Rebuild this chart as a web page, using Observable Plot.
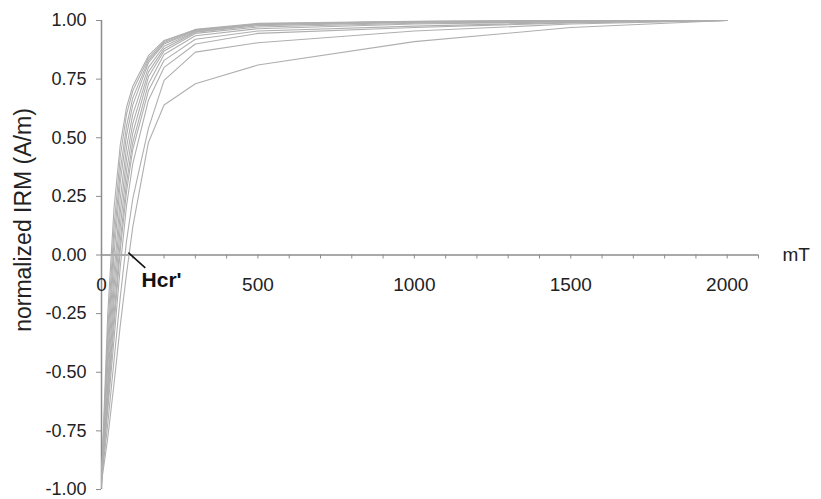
<!DOCTYPE html>
<html>
<head>
<meta charset="utf-8">
<script src="https://cdn.jsdelivr.net/npm/d3@7"></script>
<script src="https://cdn.jsdelivr.net/npm/@observablehq/plot@0.6"></script>
<style>
  html, body { margin: 0; padding: 0; background: #fff; }
  #chart svg { display: block; }
</style>
</head>
<body>
<div id="chart"></div>
<script>
// Applied field (mT) at which each sample was measured
const fields = [0, 20, 40, 60, 80, 100, 150, 200, 300, 500, 1000, 1500, 2000];

// Normalized IRM for each sample
const s1  = [-0.96, -0.25, 0.20, 0.47, 0.63, 0.72, 0.85, 0.915, 0.96, 0.985, 0.996, 0.999, 1];
const s2  = [-0.98, -0.32, 0.12, 0.42, 0.60, 0.70, 0.84, 0.91, 0.962, 0.988, 0.997, 0.999, 1];
const s3  = [-0.95, -0.38, 0.06, 0.36, 0.55, 0.67, 0.83, 0.905, 0.958, 0.986, 0.996, 0.999, 1];
const s4  = [-0.97, -0.44, 0.00, 0.31, 0.51, 0.64, 0.82, 0.90, 0.955, 0.984, 0.995, 0.998, 1];
const s5  = [-0.93, -0.48, -0.08, 0.24, 0.46, 0.60, 0.80, 0.89, 0.952, 0.982, 0.994, 0.998, 1];
const s6  = [-0.99, -0.54, -0.14, 0.18, 0.41, 0.56, 0.78, 0.88, 0.95, 0.978, 0.992, 0.997, 1];
const s7  = [-0.96, -0.57, -0.20, 0.12, 0.36, 0.52, 0.76, 0.87, 0.945, 0.972, 0.988, 0.996, 1];
const s8  = [-0.94, -0.60, -0.26, 0.06, 0.31, 0.48, 0.73, 0.855, 0.935, 0.965, 0.985, 0.995, 1];
const s9  = [-0.97, -0.63, -0.30, 0.02, 0.27, 0.45, 0.70, 0.83, 0.92, 0.955, 0.976, 0.992, 1];
const s10 = [-0.95, -0.66, -0.36, -0.05, 0.21, 0.39, 0.66, 0.80, 0.90, 0.945, 0.97, 0.99, 1];
const s11 = [-0.96, -0.72, -0.45, -0.18, 0.06, 0.24, 0.54, 0.745, 0.865, 0.905, 0.955, 0.985, 1];
const s12 = [-0.97, -0.78, -0.55, -0.30, -0.08, 0.12, 0.48, 0.64, 0.73, 0.81, 0.91, 0.97, 1];
const series = [s1, s2, s3, s4, s5, s6, s7, s8, s9, s10, s11, s12];

// Axis ticks
const yTicks = [-1, -0.75, -0.5, -0.25, 0, 0.25, 0.5, 0.75, 1];
const xMinorTicks = [100, 200, 300, 400, 500, 600, 700, 800, 900, 1000, 1100, 1200, 1300, 1400, 1500, 1600, 1700, 1800, 1900, 2000, 2100];
const xLabels = [0, 500, 1000, 1500, 2000];

// Annotation
const hcrLabel = ["Hcr'"];
const hcrLeader = [{x1: 86, y1: 0.01, x2: 140, y2: -0.055}];
const hcrText = [{x: 128, y: -0.106}];

const rows = [];
series.forEach((vals, k) => {
  vals.forEach((v, i) => rows.push({sample: "S" + (k + 1), field: fields[i], irm: v}));
});

const yTickLen = 4 / 235; // tick length expressed in y units

const chart = Plot.plot({
  width: 821,
  height: 499,
  marginLeft: 101,
  marginRight: 63,
  marginTop: 20,
  marginBottom: 10,
  style: {fontFamily: "'Liberation Sans', Arial, sans-serif", color: "#222", background: "#fff", overflow: "visible"},
  x: {domain: [0, 2100], axis: null},
  y: {domain: [-1, 1], axis: null},
  marks: [
    Plot.axisY({
      ticks: yTicks,
      tickFormat: d => d.toFixed(2),
      tickSize: 5,
      tickPadding: 10,
      fontSize: 18,
      stroke: "#8c8c8c",
      label: null
    }),
    Plot.ruleX([0], {stroke: "#8c8c8c", strokeWidth: 1.5}),
    Plot.ruleY([0], {stroke: "#8c8c8c", strokeWidth: 1.5}),
    Plot.ruleX(xMinorTicks, {x: d => d, y1: 0, y2: -yTickLen, stroke: "#8c8c8c"}),
    Plot.text(xLabels, {x: d => d, y: 0, dy: 30, text: d => String(d), fontSize: 19, fill: "#222"}),
    Plot.text(["mT"], {frameAnchor: "right", dx: 24, y: 0, text: d => d, fontSize: 19, textAnchor: "start", fill: "#222"}),
    Plot.text(["normalized IRM (A/m)"], {frameAnchor: "left", dx: -78, dy: -35, rotate: -90, textAnchor: "middle", text: d => d, fontSize: 23, fill: "#222"}),
    Plot.line(rows, {x: "field", y: "irm", z: "sample", stroke: "#afafaf", strokeWidth: 1.1}),
    Plot.link(hcrLeader, {x1: "x1", y1: "y1", x2: "x2", y2: "y2", stroke: "#111", strokeWidth: 1.6}),
    Plot.text(hcrText, {x: "x", y: "y", text: (d, i) => hcrLabel[i], textAnchor: "start", fontSize: 21, fontWeight: "bold", fill: "#111"})
  ]
});

document.getElementById("chart").appendChild(chart);
</script>
</body>
</html>
